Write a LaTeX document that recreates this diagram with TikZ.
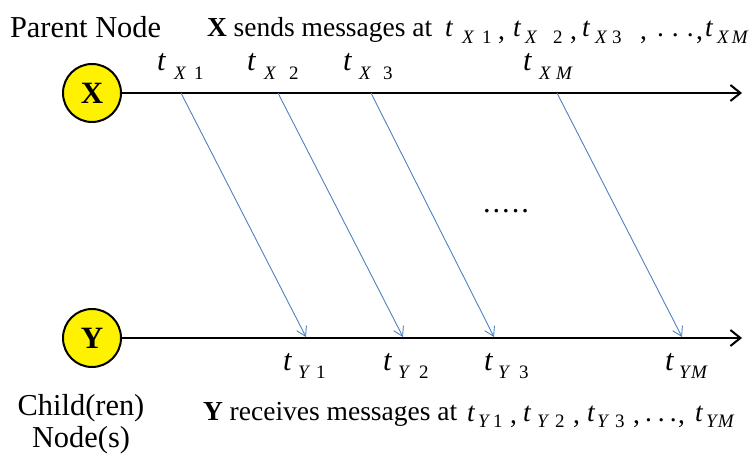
\documentclass[tikz,border=0pt]{standalone}
\usepackage{fontspec}
\setmainfont{Liberation Serif}
\usetikzlibrary{arrows.meta}
\definecolor{msgblue}{RGB}{79,129,189}
% place content at horizontal offset #1 (pt), lowered by #2 (pt)
\newcommand{\putat}[3]{\rlap{\hspace*{#1pt}\raisebox{-#2pt}{#3}}}
\newcommand{\sfn}{\fontsize{19}{19}\selectfont\itshape}
\newcommand{\tvar}{\textit{t}}
\begin{document}
\begin{tikzpicture}[x=1pt,y=-1pt,
  every node/.style={inner sep=0pt,outer sep=0pt,font=\fontsize{30.4}{34}\selectfont},
  proc/.style={circle,draw=black,line width=2pt,fill=yellow,minimum size=58pt,font=\fontsize{31}{31}\selectfont\bfseries},
  timeline/.style={line width=2pt,-{Straight Barb[length=10pt,width=16pt,line width=2pt]}},
  msg/.style={msgblue,line width=0.9pt,-{Straight Barb[length=9pt,width=11pt,line width=0.9pt]}},
  tlab/.style={anchor=base west},
  sent/.style={anchor=base west,font=\fontsize{27.5}{30}\selectfont}]
\useasboundingbox (0,0) rectangle (755,455);
\node[proc] (X) at (92,93) {X};
\node[proc] (Y) at (92,338) {Y};
\coordinate (xe) at (742,93);
\coordinate (ye) at (742,338);
\draw[timeline] (X.east) -- (xe);
\draw[timeline] (Y.east) -- (ye);
% message endpoints
\coordinate (s1) at (181,93); \coordinate (e1) at (306,337);
\coordinate (s2) at (278,93); \coordinate (e2) at (403,337);
\coordinate (s3) at (371,93); \coordinate (e3) at (494,337);
\coordinate (s4) at (557,93); \coordinate (e4) at (682,337);
\draw[msg] (s1) -- (e1);
\draw[msg] (s2) -- (e2);
\draw[msg] (s3) -- (e3);
\draw[msg] (s4) -- (e4);
% top texts
\node[tlab] (pn) at (10,37) {Parent Node};
\node[sent] (xs) at (207,36) {\putat{0}{0}{\textbf{X} sends messages at}%
 \putat{238}{0}{\tvar}\putat{255}{7}{\sfn X}\putat{275}{7}{\sfn\upshape 1}\putat{291}{3}{,}%
 \putat{306}{0}{\tvar}\putat{318}{7}{\sfn X}\putat{346}{7}{\sfn\upshape 2}\putat{363}{3}{,}%
 \putat{375}{0}{\tvar}\putat{388}{7}{\sfn X}\putat{405}{7}{\sfn\upshape 3}\putat{433}{3}{,}%
 \putat{450}{0}{.}\putat{465}{0}{.}\putat{480}{0}{.}\putat{489}{3}{,}%
 \putat{498}{0}{\tvar}\putat{510}{7}{\sfn X}\putat{525}{7}{\sfn M}\hspace*{545pt}};
% time labels on X line
\node[tlab] (tx1) at (157,70) {\tvar\putat{8}{9}{\sfn X}\putat{28}{9}{\sfn\upshape 1}\hspace*{36pt}};
\node[tlab] (tx2) at (247,70) {\tvar\putat{8}{9}{\sfn X}\putat{33}{9}{\sfn\upshape 2}\hspace*{41pt}};
\node[tlab] (tx3) at (343,70) {\tvar\putat{7}{9}{\sfn X}\putat{31}{9}{\sfn\upshape 3}\hspace*{39pt}};
\node[tlab] (txm) at (523,70) {\tvar\putat{7}{9}{\sfn X}\putat{24}{9}{\sfn M}\hspace*{42pt}};
% dots
\node[tlab] (dots) at (483,212) {.\kern2pt.\kern2pt.\kern2pt.\kern2pt.};
% time labels on Y line
\node[tlab] (ty1) at (283,370) {\tvar\putat{6}{8}{\sfn Y}\putat{24}{8}{\sfn\upshape 1}\hspace*{32pt}};
\node[tlab] (ty2) at (383,370) {\tvar\putat{6}{8}{\sfn Y}\putat{27}{8}{\sfn\upshape 2}\hspace*{35pt}};
\node[tlab] (ty3) at (484,370) {\tvar\putat{5}{8}{\sfn Y}\putat{26}{8}{\sfn\upshape 3}\hspace*{34pt}};
\node[tlab] (tym) at (665,370) {\tvar\putat{5}{8}{\sfn Y}\putat{17}{8}{\sfn M}\hspace*{36pt}};
% bottom texts
\node[sent] (yr) at (203,420) {\putat{0}{0}{\textbf{Y} receives messages at}%
 \putat{264}{1}{\tvar}\putat{275}{7}{\sfn Y}\putat{290}{7}{\sfn\upshape 1}\putat{307}{3}{,}%
 \putat{320}{1}{\tvar}\putat{334}{7}{\sfn Y}\putat{352}{7}{\sfn\upshape 2}\putat{370}{3}{,}%
 \putat{384}{1}{\tvar}\putat{394}{7}{\sfn Y}\putat{412}{7}{\sfn\upshape 3}\putat{430}{3}{,}%
 \putat{442}{1}{.}\putat{455}{1}{.}\putat{467}{1}{.}\putat{475}{3}{,}%
 \putat{492}{1}{\tvar}\putat{503}{7}{\sfn Y}\putat{515}{7}{\sfn M}\hspace*{537pt}};
\node[align=center,anchor=base,font=\fontsize{30.4}{32}\selectfont] (cn) at (81,447) {Child(ren)\\Node(s)};
\end{tikzpicture}
\end{document}
